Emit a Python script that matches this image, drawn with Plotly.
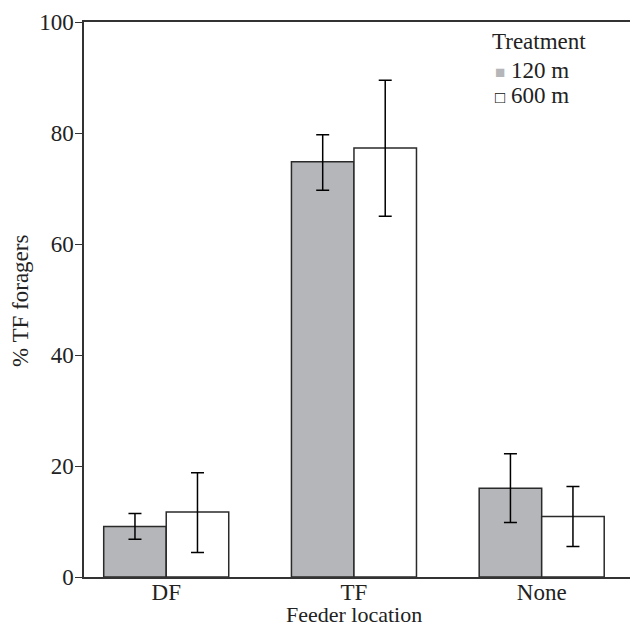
import plotly.graph_objects as go

categories = ["DF", "TF", "None"]
series_names = ["120 m", "600 m"]
values_120 = [9.1, 74.8, 16.0]
err_hi_120 = [11.45, 79.7, 22.2]
err_lo_120 = [6.8, 69.7, 9.8]
values_600 = [11.7, 77.3, 10.9]
err_hi_600 = [18.8, 89.5, 16.3]
err_lo_600 = [4.4, 65.0, 5.5]
y_ticks = [0, 20, 40, 60, 80, 100]

FONT = "Liberation Serif, Times New Roman, serif"
GRAY = "#b5b6b9"
EDGE = "#2a2a2a"
TXT = "#222"
FS = 23

# page body has an 8px margin: figure is drawn at (8, 8) in the window
PW, PH = 554, 555  # plot area size (px)

def px_x(x):
    return (x - 84) / PW

def px_y(y):
    return (577 - y) / PH

def errs(v, hi, lo):
    return [h - x for h, x in zip(hi, v)], [x - l for l, x in zip(lo, v)]

fig = go.Figure()
for name, vals, hi, lo, fill in [
    (series_names[0], values_120, err_hi_120, err_lo_120, GRAY),
    (series_names[1], values_600, err_hi_600, err_lo_600, "white"),
]:
    plus, minus = errs(vals, hi, lo)
    fig.add_trace(go.Bar(
        x=categories, y=vals, name=name, showlegend=False,
        marker=dict(color=fill, line=dict(color=EDGE, width=1.5)),
        error_y=dict(type="data", symmetric=False, array=plus, arrayminus=minus,
                     color="black", thickness=1.5, width=6.5),
    ))

# legend drawn as text
fig.add_annotation(text="Treatment", xref="paper", yref="paper",
                   x=px_x(490), y=px_y(42), xanchor="left", yanchor="middle",
                   showarrow=False, font=dict(family=FONT, size=FS, color=TXT))
legend_rows = [
    (series_names[0], f"<span style='font-size:17px;color:{GRAY}'>■</span>", 71),
    (series_names[1], "<span style='font-size:17px;color:#111'>□</span>", 95),
]
for name, sym, ypx in legend_rows:
    fig.add_annotation(text=f"{sym} {name}", xref="paper", yref="paper",
                       x=px_x(493), y=px_y(ypx), xanchor="left", yanchor="middle",
                       showarrow=False, font=dict(family=FONT, size=FS, color=TXT))

# axis titles
fig.add_annotation(text="Feeder location", xref="paper", yref="paper",
                   x=px_x(354), y=px_y(614), xanchor="center", yanchor="middle",
                   showarrow=False, font=dict(family=FONT, size=22, color=TXT))
fig.add_annotation(text="% TF foragers", xref="paper", yref="paper", textangle=-90,
                   x=px_x(20), y=px_y(301), xanchor="center", yanchor="middle",
                   showarrow=False, font=dict(family=FONT, size=FS, color=TXT))

fig.update_layout(
    width=630, height=619,
    margin=dict(l=76, r=0, t=14, b=50),
    paper_bgcolor="white", plot_bgcolor="white",
    font=dict(family=FONT, size=FS, color=TXT),
    barmode="group", bargap=0.334, bargroupgap=0,
    showlegend=False,
    xaxis=dict(range=[-0.438, 2.513], showline=True, mirror=True, automargin=False,
               linecolor="#333", linewidth=1.5, ticks="", showgrid=False,
               ticklabelstandoff=-6, tickfont=dict(size=FS)),
    yaxis=dict(range=[0, 100], tickvals=y_ticks, showline=True, mirror=False, automargin=False,
               linecolor="#333", linewidth=1.5, ticks="outside", ticklen=7,
               tickcolor="#333", tickwidth=1.2, showgrid=False, zeroline=False,
               ticklabelstandoff=-3, tickfont=dict(size=FS)),
)
fig.write_html("out.html")
